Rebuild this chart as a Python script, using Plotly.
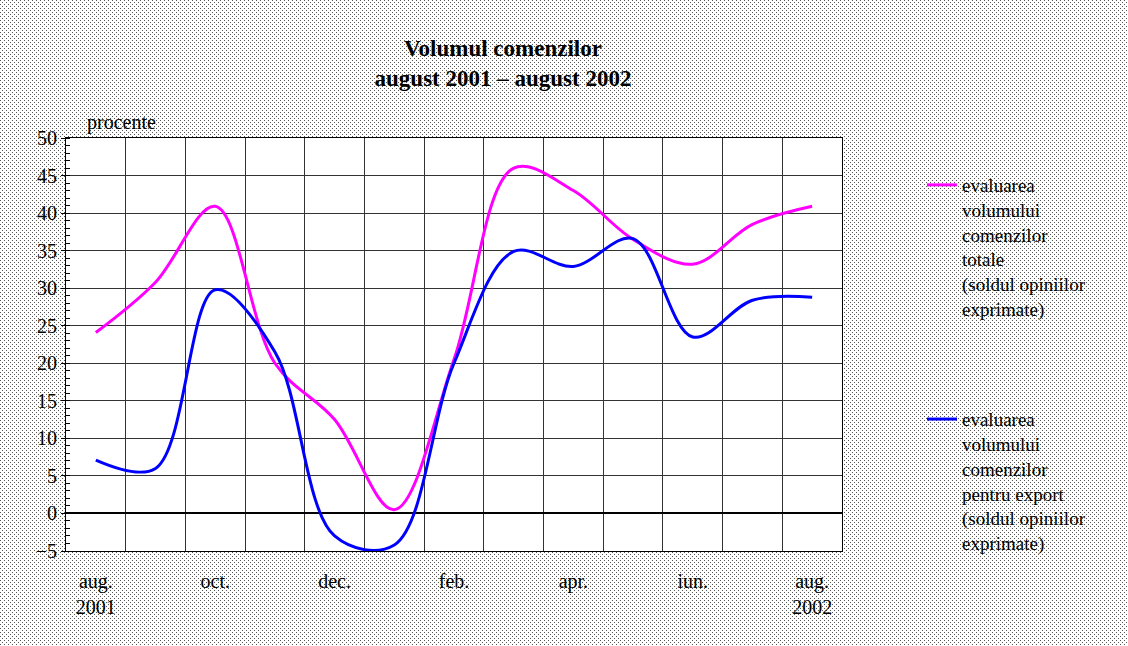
import base64
import plotly.graph_objects as go

# luni: august 2001 - august 2002
months = ["aug.", "sep.", "oct.", "nov.", "dec.", "ian.", "feb.",
          "mar.", "apr.", "mai", "iun.", "iul.", "aug."]
total_orders = [24.1, 30.8, 40.9, 20.0, 12.5, 0.5, 20.5,
                46.0, 43.0, 36.5, 33.2, 38.5, 40.9]
export_orders = [7.1, 6.0, 29.8, 21.5, -3.0, -4.2, 20.0,
                 34.9, 32.9, 36.6, 23.5, 28.4, 28.8]
tick_labels = ["aug.<br>2001", "oct.", "dec.", "feb.", "apr.", "iun.", "aug.<br>2002"]

W, H = 1128, 646
L, R, T, B = 66, 286, 138, 95
FONT = "Liberation Serif, Times New Roman, serif"

# dotted background, as in the original
svg = (
    f'<svg xmlns="http://www.w3.org/2000/svg" width="{W}" height="{H}">'
    '<defs><pattern id="d" width="4" height="4" patternUnits="userSpaceOnUse">'
    '<rect width="4" height="4" fill="#ffffff"/>'
    '<rect x="0" y="0" width="1" height="1" fill="#555"/>'
    '<rect x="2" y="2" width="1" height="1" fill="#555"/>'
    '</pattern></defs>'
    f'<rect width="{W}" height="{H}" fill="url(#d)"/></svg>'
)
bg_uri = "data:image/svg+xml;base64," + base64.b64encode(svg.encode()).decode()

pw, ph = W - L - R, H - T - B
x = list(range(len(months)))

fig = go.Figure()
fig.add_trace(go.Scatter(
    x=x, y=total_orders, mode="lines", line_shape="spline",
    line=dict(color="#ff00ff", width=3, smoothing=1.0),
    name="evaluarea<br>volumului<br>comenzilor<br>totale<br>(soldul opiniilor<br>exprimate)",
    legendgroup="a",
))
fig.add_trace(go.Scatter(
    x=x, y=export_orders, mode="lines", line_shape="spline",
    line=dict(color="#0000ff", width=3, smoothing=1.0),
    name="evaluarea<br>volumului<br>comenzilor<br>pentru export<br>(soldul opiniilor<br>exprimate)",
    legendgroup="b",
))

fig.update_layout(
    width=W, height=H,
    margin=dict(l=L, r=R, t=T, b=B),
    paper_bgcolor="white", plot_bgcolor="white",
    font=dict(family=FONT, size=20, color="black"),
    title=dict(
        text="<b>Volumul comenzilor<br>august 2001 – august 2002</b>",
        x=503 / W, xanchor="center", xref="container",
        y=1 - 56 / H, yanchor="top", yref="container",
        font=dict(size=23, family=FONT),
    ),
    legend=dict(
        x=(922 - L) / pw, xanchor="left",
        y=1 - (166 - T) / ph, yanchor="top",
        bgcolor="rgba(0,0,0,0)", valign="top",
        font=dict(size=19, family=FONT),
        tracegroupgap=83,
    ),
    images=[dict(
        source=bg_uri, xref="paper", yref="paper",
        x=-L / pw, y=1 + T / ph, sizex=W / pw, sizey=H / ph,
        xanchor="left", yanchor="top", sizing="stretch", layer="below",
    )],
    shapes=[dict(
        type="rect", xref="paper", yref="paper", x0=0, x1=1, y0=0, y1=1,
        fillcolor="white", line_width=0, layer="below",
    )],
    annotations=[dict(
        text="procente", xref="paper", yref="paper",
        x=(85 - L) / pw, y=1 + (T - 122) / ph, xanchor="left", yanchor="middle",
        showarrow=False, font=dict(size=20, family=FONT),
    )],
    showlegend=True,
)

fig.update_xaxes(
    range=[-0.5, len(months) - 0.5],
    tickmode="array", tickvals=x[::2], ticktext=tick_labels,
    ticks="", ticklabelstandoff=12, showgrid=False,
    showline=True, linecolor="black", linewidth=1, mirror=True,
    minor=dict(tickmode="linear", tick0=0.5, dtick=1, showgrid=True,
               gridcolor="#333", gridwidth=1, ticks=""),
    zeroline=False,
)
fig.update_yaxes(
    range=[-5, 50], tickmode="linear", tick0=-5, dtick=5,
    ticks="outside", ticklen=4, tickcolor="black",
    showgrid=True, gridcolor="#333", gridwidth=1,
    showline=True, linecolor="black", linewidth=1, mirror=True,
    zeroline=True, zerolinecolor="black", zerolinewidth=2,
    minor=dict(tickmode="linear", tick0=0, dtick=1, ticks="inside",
               ticklen=4, tickcolor="black", showgrid=False),
    tickformat="d",
)

# drop the default page margin so the figure fills the window
fig.write_html(
    "out.html",
    config={"displayModeBar": False},
    post_script="document.body.style.margin = '0';",
)
